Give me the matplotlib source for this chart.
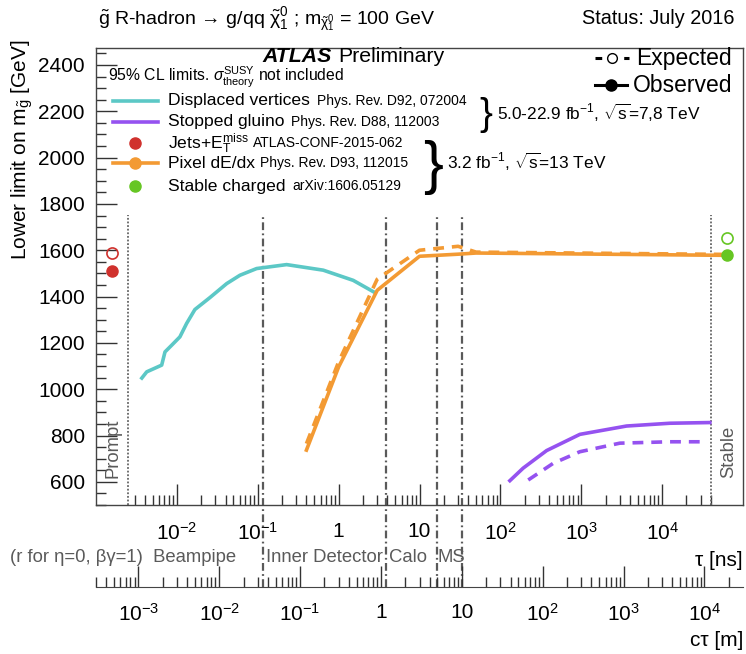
import numpy as np
import matplotlib
matplotlib.use("Agg")
import matplotlib.pyplot as plt
from matplotlib.lines import Line2D
from matplotlib.ticker import FixedLocator, FixedFormatter, NullFormatter

plt.rcParams['font.family'] = ['Liberation Sans', 'DejaVu Sans']
plt.rcParams['mathtext.fontset'] = 'custom'
plt.rcParams['mathtext.rm'] = 'Liberation Sans'
plt.rcParams['mathtext.it'] = 'Liberation Sans:italic'
plt.rcParams['mathtext.bf'] = 'Liberation Sans:bold'
plt.rcParams['mathtext.sf'] = 'Liberation Sans'

# ---------------- data (lifetime tau in ns, mass limit in GeV) ----------------
dv_tau = [0.00357, 0.00424, 0.00649, 0.00713, 0.00863, 0.0109, 0.0132, 0.0167,
          0.0257, 0.0413, 0.0602, 0.0969, 0.2275, 0.645, 1.515, 2.95]
dv_obs = [1042, 1075, 1104, 1161, 1190, 1226, 1284, 1344,
          1396, 1456, 1492, 1521, 1538, 1514, 1470, 1413]

sg_tau_obs = [131, 191, 373, 961, 3630, 12450, 38900]
sg_obs = [605, 659, 735, 805, 841, 853, 856]
sg_tau_exp = [221, 450, 961, 3000, 12400, 33700]
sg_exp = [608, 680, 730, 767, 773, 773]

px_tau = [0.4, 1, 3, 10, 30, 50, 6.3e4]
px_obs = [737, 1096, 1427, 1574, 1583, 1588, 1578]
px_exp = [765, 1118, 1475, 1600, 1617, 1592, 1582]

jets_tau = 1.56e-3
jets_obs, jets_exp = 1512, 1587

stable_tau = 6.3e4
stable_obs, stable_exp = 1578, 1655

prompt_edge = 2.5e-3   # ns
stable_edge = 4.0e4    # ns
region_ctau = [0.035, 1.15, 4.9, 10.0]   # m: beampipe, inner detector, calo, MS
C_M_PER_NS = 0.299792458

tau_major = [1e-2, 1e-1, 1, 10, 1e2, 1e3, 1e4]
tau_labels = [r'$10^{-2}$', r'$10^{-1}$', '1', '10', r'$10^{2}$', r'$10^{3}$', r'$10^{4}$']
ct_major = [1e-3, 1e-2, 1e-1, 1, 10, 1e2, 1e3, 1e4]
ct_labels = [r'$10^{-3}$', r'$10^{-2}$', r'$10^{-1}$', '1', '10', r'$10^{2}$', r'$10^{3}$', r'$10^{4}$']

c_cyan = '#5cc8c6'
c_purple = '#9552f0'
c_orange = '#f39a33'
c_red = '#d0312d'
c_green = '#66c623'
c_gray = '#5a5a5a'

W, H = 746, 654


def fx(x):
    return x / W


def fy(y):
    return 1 - y / H


fig = plt.figure(figsize=(W / 100, H / 100), dpi=100)

# main axes
ax = fig.add_axes([fx(96), fy(505), fx(743) - fx(96), fy(48.3) - fy(505)])
ax.set_xscale('log')
ax.set_xlim(1e-3, 1e5)
ax.set_ylim(500, 2472)
for s in ax.spines.values():
    s.set_color('#444444')
    s.set_linewidth(1.0)

ax.yaxis.set_major_locator(FixedLocator(np.arange(600, 2401, 200)))
ax.yaxis.set_minor_locator(FixedLocator(np.arange(500, 2451, 50)))
ax.tick_params(axis='y', which='major', direction='in', length=15, width=1.0,
               labelsize=15, pad=8, color='#333333')
ax.tick_params(axis='y', which='minor', direction='in', length=7, width=1.0, color='#333333')
fig.text(fx(22), fy(40), r'Lower limit on m$_{\mathrm{\tilde{g}}}$ [GeV]', fontsize=15,
         rotation=90, ha='center', va='top')

# tau axis ticks restricted to the prompt..stable window
tau_minor = [k * 10.0 ** n for n in range(-3, 5) for k in range(2, 10)
             if prompt_edge <= k * 10.0 ** n <= stable_edge]
ax.xaxis.set_major_locator(FixedLocator(tau_major))
ax.xaxis.set_major_formatter(FixedFormatter(tau_labels))
ax.xaxis.set_minor_locator(FixedLocator(tau_minor))
ax.xaxis.set_minor_formatter(NullFormatter())
ax.tick_params(axis='x', which='major', direction='in', length=15, width=1.0,
               labelsize=15, pad=12, color='#333333')
ax.tick_params(axis='x', which='minor', direction='in', length=7, width=1.0, color='#333333')

# detector region boundaries
top_frac = (505 - 215) / (505 - 48.3)
low_frac = -(586.7 - 505) / (505 - 48.3)
for e in [prompt_edge, stable_edge]:
    ax.axvline(e, ymin=0, ymax=top_frac, color='#666666', lw=1.3, ls=(0, (1, 1)))
for ct in region_ctau:
    ax.axvline(ct / C_M_PER_NS, ymin=low_frac, ymax=top_frac, color=c_gray, lw=1.6,
               ls=(0, (3.5, 1.5, 0.8, 1.5)), clip_on=False)

# curves
ax.plot(dv_tau, dv_obs, color=c_cyan, lw=2.6, solid_capstyle='butt')
ax.plot(sg_tau_obs, sg_obs, color=c_purple, lw=2.6)
ax.plot(sg_tau_exp, sg_exp, color=c_purple, lw=2.6, ls=(0, (3, 2.2)))
ax.plot(px_tau, px_exp, color=c_orange, lw=2.6, ls=(0, (3, 2.2)))
ax.plot(px_tau, px_obs, color=c_orange, lw=2.6)
ax.plot([jets_tau], [jets_obs], 'o', color=c_red, ms=8)
ax.plot([jets_tau], [jets_exp], 'o', mfc='none', mec=c_red, mew=1.2, ms=8)
ax.plot([stable_tau], [stable_obs], 'o', color=c_green, ms=8, zorder=5)
ax.plot([stable_tau], [stable_exp], 'o', mfc='none', mec=c_green, mew=1.2, ms=8)

# region labels inside the frame
fig.text(fx(113), fy(478), 'Prompt', rotation=90,
         fontsize=13.3, color=c_gray, ha='center', va='bottom')
fig.text(fx(729), fy(478), 'Stable', rotation=90,
         fontsize=13.3, color=c_gray, ha='center', va='bottom')

# c*tau axis
ax2 = fig.add_axes([fx(96), fy(586.7), fx(743) - fx(96), 0.0001])
ax2.set_xscale('log')
ax2.set_xlim(1e-3 * C_M_PER_NS, 1e5 * C_M_PER_NS)
ax2.set_yticks([])
for k in ['top', 'left', 'right']:
    ax2.spines[k].set_visible(False)
ax2.spines['bottom'].set_color('#444444')
ct_minor = [k * 10.0 ** n for n in range(-4, 5) for k in range(2, 10)
            if 1e-3 * C_M_PER_NS <= k * 10.0 ** n <= 1e5 * C_M_PER_NS]
ax2.xaxis.set_major_locator(FixedLocator(ct_major))
ax2.xaxis.set_major_formatter(FixedFormatter(ct_labels))
ax2.xaxis.set_minor_locator(FixedLocator(ct_minor))
ax2.xaxis.set_minor_formatter(NullFormatter())
ax2.tick_params(axis='x', which='major', direction='in', length=15, width=1.0,
                labelsize=15, pad=12, color='#333333')
ax2.tick_params(axis='x', which='minor', direction='in', length=7, width=1.0, color='#333333')
ax2.patch.set_alpha(0)

# axis titles and region names
fig.text(fx(743), fy(561), 'τ [ns]', fontsize=15, ha='right', va='center')
fig.text(fx(743), fy(641), 'cτ [m]', fontsize=15, ha='right', va='center')
fig.text(fx(10), fy(558), '(r for η=0, βγ=1)  Beampipe', fontsize=13.3,
         color=c_gray, ha='left', va='center')
fig.text(fx(265.7), fy(558), 'Inner Detector', fontsize=13.3, color=c_gray, ha='left', va='center')
fig.text(fx(389), fy(558), 'Calo', fontsize=13.3, color=c_gray, ha='left', va='center')
fig.text(fx(438), fy(558), 'MS', fontsize=13.3, color=c_gray, ha='left', va='center')

# header
fig.text(fx(98), fy(20),
         r'$\mathrm{\tilde{g}}$ R-hadron → g/qq $\mathrm{\tilde{\chi}}^{0}_{1}$ ; m$_{\mathrm{\tilde{\chi}}^{0}_{1}}$ = 100 GeV',
         fontsize=14, ha='left', va='center')
fig.text(fx(735), fy(18), 'Status: July 2016', fontsize=14.3, ha='right', va='center')

# ATLAS label
fig.text(fx(262), fy(56), 'ATLAS', fontsize=15.3, fontweight='bold', fontstyle='italic',
         ha='left', va='center')
fig.text(fx(338), fy(56), 'Preliminary', fontsize=15.3, ha='left', va='center')
fig.text(fx(108), fy(77), r'95% CL limits. $\sigma^{\mathrm{SUSY}}_{\mathrm{theory}}$ not included',
         fontsize=11.3, ha='left', va='center')

# legend of analyses
rows = [
    (100.7, 'line', c_cyan, 'Displaced vertices', 'Phys. Rev. D92, 072004', 317),
    (121.7, 'line', c_purple, 'Stopped gluino', 'Phys. Rev. D88, 112003', 291),
    (143.3, 'dot', c_red, r'Jets+E$_{\mathrm{T}}^{\mathrm{miss}}$', 'ATLAS-CONF-2015-062', 253),
    (163.3, 'linedot', c_orange, 'Pixel dE/dx', 'Phys. Rev. D93, 112015', 260),
    (186.0, 'dot', c_green, 'Stable charged', 'arXiv:1606.05129', 292),
]
for y, kind, col, name, ref, xref in rows:
    if kind in ('line', 'linedot'):
        fig.add_artist(Line2D([fx(113), fx(158)], [fy(y), fy(y)], color=col, lw=2.6))
    if kind in ('dot', 'linedot'):
        fig.add_artist(Line2D([fx(135)], [fy(y)], marker='o', color=col, ms=8, lw=0))
    fig.text(fx(168), fy(y), name, fontsize=12.6, ha='left', va='center')
    fig.text(fx(xref), fy(y), ref, fontsize=10, ha='left', va='center')

fig.text(fx(486), fy(115), '}', fontsize=28, ha='center', va='center')
fig.text(fx(497), fy(113), r'5.0-22.9 fb$^{-1}$, $\sqrt{\mathrm{s}}$=7,8 TeV', fontsize=12.4,
         ha='left', va='center')
fig.text(fx(433), fy(167), '}', fontsize=43, ha='center', va='center')
fig.text(fx(447), fy(162), r'3.2 fb$^{-1}$, $\sqrt{\mathrm{s}}$=13 TeV', fontsize=12.4,
         ha='left', va='center')

# expected / observed key
fig.add_artist(Line2D([fx(595), fx(629)], [fy(58), fy(58)], color='black', lw=2.2,
                      ls=(0, (2.2, 2.5))))
fig.add_artist(Line2D([fx(612)], [fy(58)], marker='o', mfc='white', mec='black', mew=1.0,
                      ms=7, lw=0))
fig.text(fx(636), fy(58), 'Expected', fontsize=16.5, ha='left', va='center')
fig.add_artist(Line2D([fx(595), fx(627)], [fy(85), fy(85)], color='black', lw=2.2))
fig.add_artist(Line2D([fx(611)], [fy(85)], marker='o', color='black', ms=8, lw=0))
fig.text(fx(633), fy(85), 'Observed', fontsize=16.5, ha='left', va='center')

fig.savefig('out.png', dpi=100)
